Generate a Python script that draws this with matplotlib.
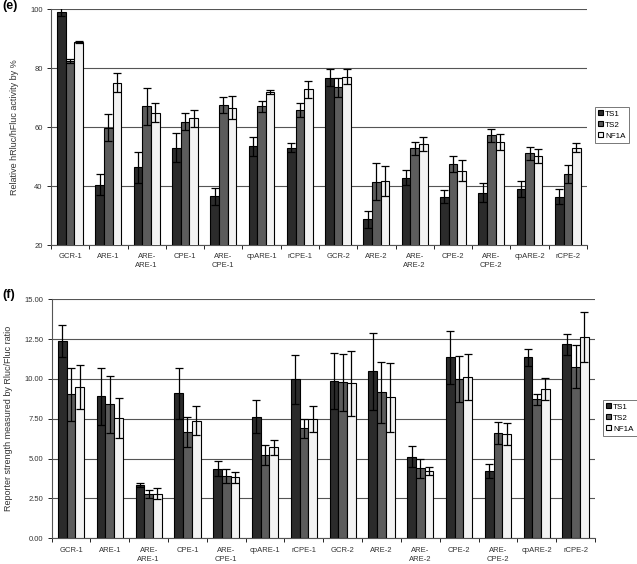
import matplotlib
matplotlib.use("Agg")
import matplotlib.pyplot as plt
import numpy as np

plt.rcParams['font.family'] = ['Liberation Sans', 'DejaVu Sans']

categories = ["GCR-1", "ARE-1", "ARE-\nARE-1", "CPE-1", "ARE-\nCPE-1", "cpARE-1", "rCPE-1",
              "GCR-2", "ARE-2", "ARE-\nARE-2", "CPE-2", "ARE-\nCPE-2", "cpARE-2", "rCPE-2"]
series = ["TS1", "TS2", "NF1A"]

# panel (e): relative hRluc/hFluc activity (%)
e_ts1 = [99.2, 40.5, 46.4, 53.0, 36.6, 53.5, 53.0, 76.8, 28.8, 42.9, 36.3, 37.8, 38.9, 36.4]
e_ts2 = [82.4, 59.8, 67.0, 61.9, 67.5, 67.0, 65.8, 73.5, 41.5, 52.9, 47.5, 57.2, 51.1, 44.1]
e_nf1a = [88.8, 75.1, 64.9, 63.0, 66.6, 71.9, 72.8, 77.1, 41.7, 54.2, 45.2, 54.8, 50.2, 53.0]
e_ts1_err = [1.5, 3.7, 5.3, 5.0, 2.9, 3.2, 1.5, 2.8, 2.9, 2.5, 2.2, 3.1, 2.7, 2.5]
e_ts2_err = [0.7, 4.5, 6.2, 2.9, 2.6, 1.7, 2.3, 3.3, 6.2, 2.2, 2.8, 2.1, 2.3, 3.0]
e_nf1a_err = [0.3, 3.2, 3.3, 2.8, 4.0, 0.6, 2.8, 2.5, 5.1, 2.4, 3.5, 2.7, 2.4, 1.6]

# panel (f): reporter strength, Rluc/Fluc ratio
f_ts1 = [12.38, 8.91, 3.35, 9.10, 4.37, 7.64, 9.98, 9.87, 10.48, 5.13, 11.36, 4.23, 11.36, 12.18]
f_ts2 = [9.04, 8.41, 2.76, 6.69, 3.91, 5.23, 6.90, 9.79, 9.16, 4.39, 9.98, 6.59, 8.72, 10.77]
f_nf1a = [9.50, 7.53, 2.80, 7.38, 3.83, 5.71, 7.47, 9.73, 8.85, 4.23, 10.10, 6.55, 9.37, 12.66]
f_ts1_err = [1.0, 1.8, 0.15, 1.6, 0.47, 1.05, 1.55, 1.73, 2.4, 0.65, 1.65, 0.45, 0.53, 0.65]
f_ts2_err = [1.65, 1.8, 0.25, 0.95, 0.42, 0.6, 0.58, 1.8, 1.9, 0.6, 1.45, 0.68, 0.35, 1.35]
f_nf1a_err = [1.4, 1.25, 0.35, 0.9, 0.35, 0.47, 0.83, 2.05, 2.15, 0.27, 1.45, 0.67, 0.7, 1.57]

colors = ["#2b2b2b", "#5c5c5c", "#f2f2f2"]

fig = plt.figure(figsize=(6.37, 5.64), dpi=100)
ax_e = fig.add_axes([0.080, 0.5656, 0.8415, 0.418])
ax_f = fig.add_axes([0.081, 0.0456, 0.853, 0.4237])


def draw_panel(ax, vals, errs, ylim, yticks, yfmt, ylabel):
    x = np.arange(len(categories))
    w = 0.225
    for i, (v, e) in enumerate(zip(vals, errs)):
        ax.bar(x + (i - 1) * w, v, w, color=colors[i], edgecolor="black", linewidth=0.8,
               label=series[i], zorder=3)
        ax.errorbar(x + (i - 1) * w, v, yerr=e, fmt="none", ecolor="black",
                    elinewidth=0.9, capsize=2.8, capthick=0.9, zorder=4)
    ax.set_xlim(-0.5, len(categories) - 0.5)
    ax.set_ylim(*ylim)
    ax.set_yticks(yticks)
    ax.set_yticklabels([yfmt.format(t) for t in yticks], fontsize=5.5, color="#333333")
    ax.set_xticks(x)
    ax.set_xticklabels(categories, fontsize=5.5, color="#333333", linespacing=1.4)
    ax.set_xticks(np.arange(len(categories) + 1) - 0.5, minor=True)
    ax.tick_params(axis="x", which="major", length=0, pad=6)
    ax.tick_params(axis="x", which="minor", length=3, direction="out", width=0.6)
    ax.tick_params(axis="y", length=3, width=0.6, pad=3)
    ax.grid(axis="y", color="#555555", linewidth=0.8, zorder=0)
    ax.set_axisbelow(True)
    for s in ["top", "right"]:
        ax.spines[s].set_visible(False)
    ax.spines["left"].set_color("#555555")
    ax.spines["bottom"].set_color("#555555")
    ax.set_ylabel(ylabel, fontsize=6.5, color="#333333", labelpad=8)


draw_panel(ax_e, [e_ts1, e_ts2, e_nf1a], [e_ts1_err, e_ts2_err, e_nf1a_err],
           (20, 100), [20, 40, 60, 80, 100], "{:.0f}", "Relative hRluc/hFluc activity by %")
draw_panel(ax_f, [f_ts1, f_ts2, f_nf1a], [f_ts1_err, f_ts2_err, f_nf1a_err],
           (0, 15), [0, 2.5, 5, 7.5, 10, 12.5, 15], "{:.2f}",
           "Reporter strength measured by Rluc/Fluc ratio")

for ax, anchor in [(ax_e, (595 / 637, 1 - 107 / 564)), (ax_f, (603 / 637, 1 - 400 / 564))]:
    leg = ax.legend(loc="upper left", bbox_to_anchor=anchor, bbox_transform=fig.transFigure,
                    fontsize=5.8, frameon=True, fancybox=False, handlelength=0.6,
                    handleheight=0.6, handletextpad=0.25, borderpad=0.4, labelspacing=0.45,
                    borderaxespad=0)
    leg.get_frame().set_edgecolor("#555555")
    leg.get_frame().set_linewidth(0.7)

fig.text(2 / 637, 1 - 6 / 564, "(e)", fontsize=9, fontweight="bold", va="center")
fig.text(2 / 637, 1 - 295 / 564, "(f)", fontsize=9, fontweight="bold", va="center")

fig.savefig("out.png", dpi=100)
